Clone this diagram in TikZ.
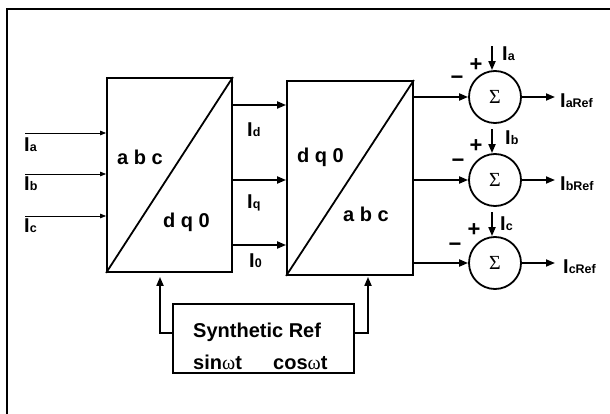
\documentclass[tikz,border=0pt]{standalone}
\usepackage{fontspec}
\setmainfont{Liberation Sans}
\newfontfamily\symf{Liberation Serif}
\usetikzlibrary{arrows.meta}
\newcommand{\cur}[1]{I{\fontsize{12.5}{12.5}\selectfont #1}}
\begin{document}
\begin{tikzpicture}[x=1pt,y=-1pt,
  font=\fontsize{20}{22}\selectfont\bfseries,
  blk/.style={draw,line width=1.8pt,inner sep=0pt},
  sumc/.style={draw,circle,line width=1.8pt,minimum size=52pt,inner sep=0pt,font=\symf\fontsize{20}{20}\selectfont},
  arr/.style={line width=1.8pt,-{Triangle[length=9pt,width=7pt]}},
  thinarr/.style={line width=0.8pt,-{Triangle[length=6pt,width=4.5pt]}},
  lbl/.style={inner sep=0pt,anchor=base west},
  sgn/.style={inner sep=0pt,font=\fontsize{22}{22}\selectfont\bfseries}]
\useasboundingbox (0,0) rectangle (610,414);
% frame (left and top edges)
\coordinate (fbl) at (7,414);
\coordinate (ftl) at (7,9);
\coordinate (ftr) at (610,9);
\draw[line width=2.4pt] (fbl) -- (ftl) -- (ftr);
% blocks
\node[blk,minimum width=125pt,minimum height=194pt] (b1) at (169.5,175) {};
\node[blk,minimum width=126pt,minimum height=194pt] (b2) at (350,178) {};
\draw[line width=1.8pt] (b1.south west) -- (b1.north east);
\draw[line width=1.8pt] (b2.south west) -- (b2.north east);
\node[lbl] (t1) at (117,165) {a b c};
\node[lbl] (t2) at (163,227) {d q 0};
\node[lbl] (t3) at (297,163) {d q 0};
\node[lbl] (t4) at (343,222) {a b c};
% reference block
\node[blk,minimum width=181pt,minimum height=69pt] (ref) at (263.5,338.5) {};
\node[lbl] (r1) at (193,337) {Synthetic Ref};
\node[lbl] (r2) at (193,369) {sin{\symf\mdseries ω}t};
\node[lbl] (r3) at (273,369) {cos{\symf\mdseries ω}t};
% inputs
\coordinate (ia) at (25,133);
\coordinate (ib) at (25,174);
\coordinate (ic) at (25,216);
\draw[thinarr] (ia) -- (ia -| b1.west);
\draw[thinarr] (ib) -- (ib -| b1.west);
\draw[thinarr] (ic) -- (ic -| b1.west);
\node[lbl] (lia) at (24,152) {\cur{a}};
\node[lbl] (lib) at (24,191) {\cur{b}};
\node[lbl] (lic) at (24,233) {\cur{c}};
% dq0 signals
\coordinate (cd) at (232,105);
\coordinate (cq) at (232,180);
\coordinate (c0) at (232,245);
\draw[arr] (cd) -- (cd -| b2.west);
\draw[arr] (cq) -- (cq -| b2.west);
\draw[arr] (c0) -- (c0 -| b2.west);
\node[lbl] (lid) at (247,137) {\cur{d}};
\node[lbl] (liq) at (247,208) {\cur{q}};
\node[lbl] (li0) at (249,267) {\cur{0}};
% summing junctions
\node[sumc] (s1) at (495,97) {Σ};
\node[sumc] (s2) at (495,180) {Σ};
\node[sumc] (s3) at (495,263) {Σ};
\draw[arr] (s1.west -| b2.east) -- (s1.west);
\draw[arr] (s2.west -| b2.east) -- (s2.west);
\draw[arr] (s3.west -| b2.east) -- (s3.west);
\draw[arr] ([xshift=-3pt,yshift=24pt]s1.north) -- ([xshift=-3pt]s1.north);
\draw[arr] ([xshift=-3pt,yshift=24pt]s2.north) -- ([xshift=-3pt]s2.north);
\draw[arr] ([xshift=-3pt,yshift=24pt]s3.north) -- ([xshift=-3pt]s3.north);
\node[lbl] (ta) at (502,61) {\cur{a}};
\node[lbl] (tb) at (505,145) {\cur{b}};
\node[lbl] (tc) at (500,230) {\cur{c}};
\node[sgn] (p1) at (476,65) {+};
\node[sgn] (p2) at (476,146) {+};
\node[sgn] (p3) at (474,230) {+};
\node[sgn] (m1) at (457,80) {−};
\node[sgn] (m2) at (458,163) {−};
\node[sgn] (m3) at (455,247) {−};
\coordinate (o1) at (555,97);
\coordinate (o2) at (555,180);
\coordinate (o3) at (555,263);
\draw[arr] (s1.east) -- (o1);
\draw[arr] (s2.east) -- (o2);
\draw[arr] (s3.east) -- (o3);
\node[lbl] (la) at (560,108) {\cur{aRef}};
\node[lbl] (lb) at (560,191) {\cur{bRef}};
\node[lbl] (lc) at (563,273) {\cur{cRef}};
% feedback
\draw[arr,shorten >=4pt] ([yshift=5.5pt]ref.west) -| ([xshift=-9.5pt]b1.south);
\draw[arr,shorten >=1pt] ([yshift=5.5pt]ref.east) -| ([xshift=18pt]b2.south);
\end{tikzpicture}
\end{document}
